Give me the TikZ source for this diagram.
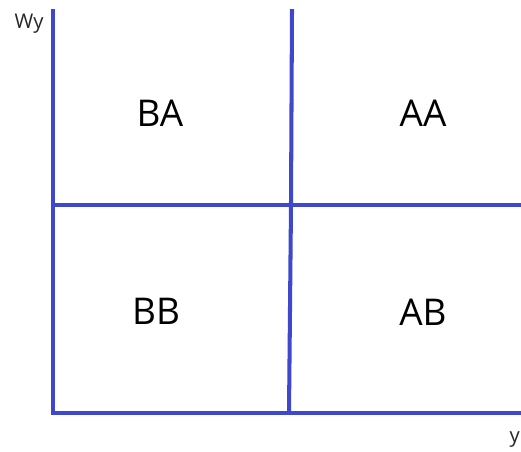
\documentclass[tikz,border=0pt]{standalone}
\usepackage{fontspec}
\setmainfont{Open Sans}
\definecolor{linea}{RGB}{63,72,204}
\begin{document}
\begin{tikzpicture}[x=0.02cm,y=-0.02cm]
        % Marco
        \useasboundingbox (0,0) rectangle (521,451);

        % Coordenadas
        \coordinate (O) at (53,413);
        \coordinate (T) at (53,9);
        \coordinate (X) at (521,413);
        \coordinate (M) at (53,205);
        \coordinate (R) at (521,205);
        \coordinate (S) at (292,9);
        \coordinate (C) at (291,205);
        \coordinate (D) at (289,413);

        % Ejes
        \draw[linea, line width=2.3pt] (T) -- (O) -- (X);
        \node[gray!30!black, font=\fontsize{11.5}{13}\selectfont] (wy) at (29,24) {Wy};
        \node[gray!30!black, font=\fontsize{11.5}{13}\selectfont, anchor=east, inner sep=0.5pt] (ye) at (521,440) {y};

        % Divisiones
        \draw[linea, line width=2.3pt] (M) -- (R);
        \draw[linea, line width=2.3pt] (S) -- (C) -- (D);

        % Regiones
        \node[font=\fontsize{21}{24}\selectfont] (ba) at (160,113) {BA};
        \node[font=\fontsize{21}{24}\selectfont] (aa) at (423,113) {AA};
        \node[font=\fontsize{21}{24}\selectfont] (bb) at (156,311) {BB};
        \node[font=\fontsize{21}{24}\selectfont] (ab) at (423,312) {AB};
    \end{tikzpicture}
\end{document}
